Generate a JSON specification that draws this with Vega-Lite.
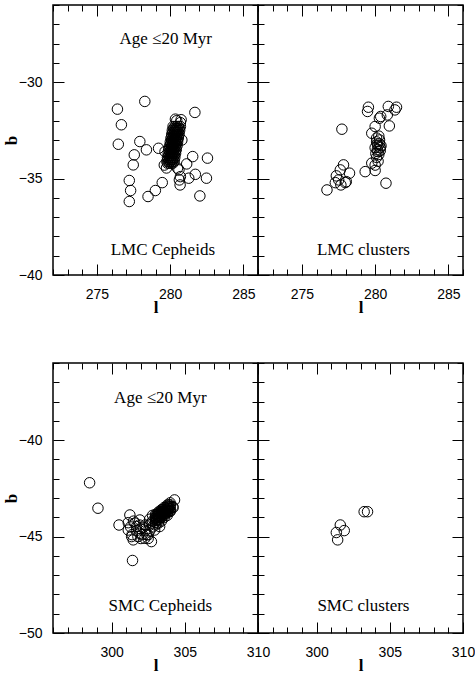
{
  "$schema": "https://vega.github.io/schema/vega-lite/v6.json",
  "padding": {"left": 1, "top": 3, "right": 0, "bottom": 5},
  "bounds": "flush",
  "columns": 2,
  "spacing": {"row": 88, "column": 0},
  "config": {
    "view": {"stroke": "black", "strokeWidth": 1.5},
    "axis": {"domain": false, "grid": false, "tickColor": "black", "tickWidth": 1, "labelFont": "Liberation Sans", "labelFontSize": 14, "labelColor": "black", "labelFlush": false, "labelOverlap": false, "titleFont": "Liberation Serif", "titleFontSize": 17, "titleFontWeight": "bold", "titleColor": "black"},
    "axisX": {"labelPadding": 23, "titlePadding": -2},
    "axisY": {"labelPadding": 22, "titlePadding": -2},
    "text": {"font": "Liberation Serif", "fontSize": 17, "color": "black", "baseline": "middle", "align": "center"}
  },
  "datasets": {
    "lmc_cepheids": [
      {"l": 276.40, "b": -31.40}, {"l": 276.67, "b": -32.21}, {"l": 276.46, "b": -33.22}, {"l": 278.27, "b": -31.00},
      {"l": 277.93, "b": -33.08}, {"l": 278.38, "b": -33.51}, {"l": 277.55, "b": -33.77}, {"l": 277.48, "b": -34.29},
      {"l": 277.21, "b": -35.10}, {"l": 277.30, "b": -35.62}, {"l": 277.21, "b": -36.19}, {"l": 278.49, "b": -35.93},
      {"l": 278.99, "b": -35.62}, {"l": 279.46, "b": -35.21}, {"l": 279.21, "b": -33.43}, {"l": 281.69, "b": -31.57},
      {"l": 281.54, "b": -33.86}, {"l": 281.13, "b": -34.24}, {"l": 281.27, "b": -34.98}, {"l": 281.72, "b": -34.78},
      {"l": 282.55, "b": -33.94}, {"l": 282.48, "b": -34.98}, {"l": 282.03, "b": -35.90}, {"l": 280.63, "b": -35.07},
      {"l": 280.68, "b": -35.33}, {"l": 280.70, "b": -34.90}, {"l": 280.75, "b": -31.95}, {"l": 280.36, "b": -31.92},
      {"l": 280.50, "b": -34.46}, {"l": 280.45, "b": -32.0}, {"l": 280.7, "b": -32.1}, {"l": 280.6, "b": -34.55},
      {"l": 279.75, "b": -34.45}, {"l": 279.6, "b": -34.3}, {"l": 280.8, "b": -33.0}, {"l": 279.65, "b": -33.6},
      {"l": 280.20, "b": -32.3}, {"l": 280.33, "b": -32.3}, {"l": 280.45, "b": -32.3}, {"l": 280.57, "b": -32.3}, {"l": 280.70, "b": -32.3},
      {"l": 280.24, "b": -32.4}, {"l": 280.37, "b": -32.4}, {"l": 280.49, "b": -32.4}, {"l": 280.62, "b": -32.4},
      {"l": 280.15, "b": -32.5}, {"l": 280.28, "b": -32.5}, {"l": 280.40, "b": -32.5}, {"l": 280.52, "b": -32.5}, {"l": 280.65, "b": -32.5},
      {"l": 280.19, "b": -32.6}, {"l": 280.32, "b": -32.6}, {"l": 280.44, "b": -32.6}, {"l": 280.57, "b": -32.6},
      {"l": 280.11, "b": -32.7}, {"l": 280.24, "b": -32.7}, {"l": 280.36, "b": -32.7}, {"l": 280.48, "b": -32.7}, {"l": 280.61, "b": -32.7},
      {"l": 280.14, "b": -32.8}, {"l": 280.27, "b": -32.8}, {"l": 280.39, "b": -32.8}, {"l": 280.52, "b": -32.8},
      {"l": 280.06, "b": -32.9}, {"l": 280.19, "b": -32.9}, {"l": 280.31, "b": -32.9}, {"l": 280.43, "b": -32.9}, {"l": 280.56, "b": -32.9},
      {"l": 280.10, "b": -33.0}, {"l": 280.23, "b": -33.0}, {"l": 280.35, "b": -33.0}, {"l": 280.48, "b": -33.0},
      {"l": 280.01, "b": -33.1}, {"l": 280.14, "b": -33.1}, {"l": 280.26, "b": -33.1}, {"l": 280.38, "b": -33.1}, {"l": 280.51, "b": -33.1},
      {"l": 280.05, "b": -33.2}, {"l": 280.18, "b": -33.2}, {"l": 280.30, "b": -33.2}, {"l": 280.43, "b": -33.2},
      {"l": 279.97, "b": -33.3}, {"l": 280.10, "b": -33.3}, {"l": 280.22, "b": -33.3}, {"l": 280.34, "b": -33.3}, {"l": 280.47, "b": -33.3},
      {"l": 280.00, "b": -33.4}, {"l": 280.13, "b": -33.4}, {"l": 280.25, "b": -33.4}, {"l": 280.38, "b": -33.4},
      {"l": 279.92, "b": -33.5}, {"l": 280.05, "b": -33.5}, {"l": 280.17, "b": -33.5}, {"l": 280.29, "b": -33.5}, {"l": 280.42, "b": -33.5},
      {"l": 279.96, "b": -33.6}, {"l": 280.09, "b": -33.6}, {"l": 280.21, "b": -33.6}, {"l": 280.34, "b": -33.6},
      {"l": 279.87, "b": -33.7}, {"l": 280.00, "b": -33.7}, {"l": 280.12, "b": -33.7}, {"l": 280.24, "b": -33.7}, {"l": 280.37, "b": -33.7},
      {"l": 279.91, "b": -33.8}, {"l": 280.04, "b": -33.8}, {"l": 280.16, "b": -33.8}, {"l": 280.29, "b": -33.8},
      {"l": 279.82, "b": -33.9}, {"l": 279.95, "b": -33.9}, {"l": 280.07, "b": -33.9}, {"l": 280.19, "b": -33.9}, {"l": 280.32, "b": -33.9},
      {"l": 279.86, "b": -34.0}, {"l": 279.99, "b": -34.0}, {"l": 280.11, "b": -34.0}, {"l": 280.24, "b": -34.0},
      {"l": 279.78, "b": -34.1}, {"l": 279.91, "b": -34.1}, {"l": 280.03, "b": -34.1}, {"l": 280.15, "b": -34.1}, {"l": 280.28, "b": -34.1},
      {"l": 279.81, "b": -34.2}, {"l": 279.94, "b": -34.2}, {"l": 280.06, "b": -34.2}, {"l": 280.19, "b": -34.2}
    ],
    "lmc_clusters": [
      {"l": 277.73, "b": -32.44}, {"l": 276.71, "b": -35.59}, {"l": 277.28, "b": -35.21}, {"l": 277.62, "b": -34.55},
      {"l": 277.84, "b": -34.29}, {"l": 277.35, "b": -34.86}, {"l": 277.66, "b": -35.33}, {"l": 278.03, "b": -35.16},
      {"l": 277.96, "b": -35.21}, {"l": 278.25, "b": -34.72}, {"l": 277.51, "b": -35.07}, {"l": 279.32, "b": -34.64},
      {"l": 279.77, "b": -34.20}, {"l": 280.0, "b": -34.58}, {"l": 280.74, "b": -35.24}, {"l": 279.48, "b": -31.52},
      {"l": 279.54, "b": -31.30}, {"l": 280.29, "b": -31.87}, {"l": 280.38, "b": -31.78}, {"l": 280.90, "b": -31.26},
      {"l": 280.97, "b": -32.27}, {"l": 280.83, "b": -31.70}, {"l": 281.35, "b": -31.44}, {"l": 281.46, "b": -31.30},
      {"l": 279.77, "b": -32.65}, {"l": 280.0, "b": -32.30},
      {"l": 280.1, "b": -33.1}, {"l": 280.3, "b": -33.0}, {"l": 280.2, "b": -33.3}, {"l": 280.4, "b": -33.3},
      {"l": 280.0, "b": -33.4}, {"l": 280.15, "b": -33.5}, {"l": 280.35, "b": -33.55}, {"l": 280.25, "b": -33.75},
      {"l": 280.05, "b": -33.7}, {"l": 280.3, "b": -33.2}, {"l": 280.1, "b": -33.9}, {"l": 280.2, "b": -34.1},
      {"l": 280.0, "b": -34.3}, {"l": 280.1, "b": -32.9}, {"l": 280.25, "b": -32.8}, {"l": 280.2, "b": -33.6},
      {"l": 280.35, "b": -33.4}, {"l": 280.15, "b": -33.2}
    ],
    "smc_cepheids": [
      {"l": 298.50, "b": -42.21}, {"l": 299.07, "b": -43.53}, {"l": 300.51, "b": -44.40}, {"l": 301.43, "b": -46.24},
      {"l": 301.25, "b": -43.88}, {"l": 301.14, "b": -44.28}, {"l": 301.14, "b": -44.66}, {"l": 301.37, "b": -45.00},
      {"l": 301.48, "b": -45.17}, {"l": 301.93, "b": -44.83}, {"l": 301.93, "b": -44.14}, {"l": 301.70, "b": -44.48},
      {"l": 302.16, "b": -44.52}, {"l": 302.27, "b": -45.09}, {"l": 302.72, "b": -45.26}, {"l": 302.50, "b": -44.91},
      {"l": 302.94, "b": -44.66}, {"l": 303.28, "b": -44.48}, {"l": 304.30, "b": -43.10}, {"l": 304.18, "b": -43.45},
      {"l": 301.6, "b": -44.3}, {"l": 301.8, "b": -45.0}, {"l": 302.0, "b": -44.6}, {"l": 302.3, "b": -44.7},
      {"l": 301.3, "b": -44.5}, {"l": 302.5, "b": -45.1}, {"l": 302.6, "b": -44.7},
      {"l": 301.5, "b": -44.2}, {"l": 301.7, "b": -44.7}, {"l": 301.9, "b": -44.4}, {"l": 302.1, "b": -44.9},
      {"l": 302.3, "b": -44.4}, {"l": 302.4, "b": -44.9}, {"l": 301.4, "b": -44.9}, {"l": 302.0, "b": -45.1},
      {"l": 302.6, "b": -44.4}, {"l": 302.6, "b": -44.1},
      {"l": 302.8, "b": -44.5}, {"l": 302.8, "b": -44.2}, {"l": 302.8, "b": -43.9},
      {"l": 303.0, "b": -44.4}, {"l": 303.2, "b": -44.3}, {"l": 303.4, "b": -44.2},
      {"l": 303.6, "b": -44.0}, {"l": 303.8, "b": -43.9}, {"l": 304.0, "b": -43.7}, {"l": 304.2, "b": -43.5},
      {"l": 302.7, "b": -44.3}, {"l": 303.1, "b": -44.3},
      {"l": 303.0, "b": -44.25}, {"l": 303.0, "b": -44.15}, {"l": 303.0, "b": -44.05}, {"l": 303.0, "b": -43.95}, {"l": 303.0, "b": -43.85},
      {"l": 303.1, "b": -44.14}, {"l": 303.1, "b": -44.04}, {"l": 303.1, "b": -43.94}, {"l": 303.1, "b": -43.84},
      {"l": 303.2, "b": -44.13}, {"l": 303.2, "b": -44.03}, {"l": 303.2, "b": -43.93}, {"l": 303.2, "b": -43.83}, {"l": 303.2, "b": -43.73},
      {"l": 303.3, "b": -44.02}, {"l": 303.3, "b": -43.92}, {"l": 303.3, "b": -43.82}, {"l": 303.3, "b": -43.72},
      {"l": 303.4, "b": -44.01}, {"l": 303.4, "b": -43.91}, {"l": 303.4, "b": -43.81}, {"l": 303.4, "b": -43.71}, {"l": 303.4, "b": -43.61},
      {"l": 303.5, "b": -43.90}, {"l": 303.5, "b": -43.80}, {"l": 303.5, "b": -43.70}, {"l": 303.5, "b": -43.60},
      {"l": 303.6, "b": -43.89}, {"l": 303.6, "b": -43.79}, {"l": 303.6, "b": -43.69}, {"l": 303.6, "b": -43.59}, {"l": 303.6, "b": -43.49},
      {"l": 303.7, "b": -43.78}, {"l": 303.7, "b": -43.68}, {"l": 303.7, "b": -43.58}, {"l": 303.7, "b": -43.48},
      {"l": 303.8, "b": -43.77}, {"l": 303.8, "b": -43.67}, {"l": 303.8, "b": -43.57}, {"l": 303.8, "b": -43.47}, {"l": 303.8, "b": -43.37},
      {"l": 303.9, "b": -43.66}, {"l": 303.9, "b": -43.56}, {"l": 303.9, "b": -43.46}, {"l": 303.9, "b": -43.36},
      {"l": 304.0, "b": -43.65}, {"l": 304.0, "b": -43.55}, {"l": 304.0, "b": -43.45}, {"l": 304.0, "b": -43.35}, {"l": 304.0, "b": -43.25}
    ],
    "smc_clusters": [
      {"l": 303.25, "b": -43.71}, {"l": 303.48, "b": -43.71}, {"l": 301.35, "b": -44.79},
      {"l": 301.62, "b": -44.40}, {"l": 301.89, "b": -44.69}, {"l": 301.44, "b": -45.17}
    ]
  },
  "concat": [
    {
      "width": 205, "height": 270,
      "layer": [
        {
          "data": {"name": "lmc_cepheids"},
          "mark": {"type": "point", "filled": false, "stroke": "black", "strokeWidth": 1, "size": 110, "opacity": 1},
          "encoding": {
            "x": {"field": "l", "type": "quantitative", "scale": {"domain": [272, 286], "nice": false, "zero": false},
              "axis": {"orient": "bottom", "title": "l", "values": [272,273,274,275,276,277,278,279,280,281,282,283,284,285,286], "labelExpr": "datum.value % 5 === 0 ? datum.label : ''", "labelFontSize": {"condition": {"test": "datum.value % 5 === 0", "value": 14}, "value": 0}, "tickSize": {"condition": {"test": "datum.value % 5 === 0", "value": -11}, "value": -6}}},
            "y": {"field": "b", "type": "quantitative", "scale": {"domain": [-40, -26], "nice": false, "zero": false},
              "axis": {"orient": "left", "title": "b", "values": [-40,-39,-38,-37,-36,-35,-34,-33,-32,-31,-30,-29,-28,-27,-26], "labelExpr": "datum.value % 5 === 0 ? datum.label : ''", "labelFontSize": {"condition": {"test": "datum.value % 5 === 0", "value": 14}, "value": 0}, "tickSize": {"condition": {"test": "datum.value % 5 === 0", "value": -11}, "value": -6}}}
          }
        },
        {
          "data": {"name": "lmc_cepheids"},
          "mark": {"type": "point", "opacity": 0},
          "encoding": {
            "x": {"field": "l", "type": "quantitative", "axis": {"orient": "top", "title": null, "labels": false, "values": [272,273,274,275,276,277,278,279,280,281,282,283,284,285,286], "tickSize": {"condition": {"test": "datum.value % 5 === 0", "value": -11}, "value": -6}}},
            "y": {"field": "b", "type": "quantitative", "axis": {"orient": "right", "title": null, "labels": false, "values": [-40,-39,-38,-37,-36,-35,-34,-33,-32,-31,-30,-29,-28,-27,-26], "tickSize": {"condition": {"test": "datum.value % 5 === 0", "value": -11}, "value": -6}}}
          }
        },
        {
          "data": {"values": [{"label": "Age ≤20 Myr", "px": 279.7, "py": -27.77}, {"label": "LMC Cepheids", "px": 279.5, "py": -38.7}]},
          "mark": {"type": "text"},
          "encoding": {
            "x": {"field": "px", "type": "quantitative", "axis": null},
            "y": {"field": "py", "type": "quantitative", "axis": null},
            "text": {"field": "label"}
          }
        }
      ],
      "resolve": {"axis": {"x": "independent", "y": "independent"}}
    },
    {
      "width": 205, "height": 270,
      "layer": [
        {
          "data": {"name": "lmc_clusters"},
          "mark": {"type": "point", "filled": false, "stroke": "black", "strokeWidth": 1, "size": 110, "opacity": 1},
          "encoding": {
            "x": {"field": "l", "type": "quantitative", "scale": {"domain": [272, 286], "nice": false, "zero": false},
              "axis": {"orient": "bottom", "title": "l", "values": [272,273,274,275,276,277,278,279,280,281,282,283,284,285,286], "labelExpr": "datum.value % 5 === 0 ? datum.label : ''", "labelFontSize": {"condition": {"test": "datum.value % 5 === 0", "value": 14}, "value": 0}, "tickSize": {"condition": {"test": "datum.value % 5 === 0", "value": -11}, "value": -6}}},
            "y": {"field": "b", "type": "quantitative", "scale": {"domain": [-40, -26], "nice": false, "zero": false},
              "axis": {"orient": "left", "title": null, "labels": false, "values": [-40,-39,-38,-37,-36,-35,-34,-33,-32,-31,-30,-29,-28,-27,-26], "tickSize": {"condition": {"test": "datum.value % 5 === 0", "value": -11}, "value": -6}}}
          }
        },
        {
          "data": {"name": "lmc_clusters"},
          "mark": {"type": "point", "opacity": 0},
          "encoding": {
            "x": {"field": "l", "type": "quantitative", "axis": {"orient": "top", "title": null, "labels": false, "values": [272,273,274,275,276,277,278,279,280,281,282,283,284,285,286], "tickSize": {"condition": {"test": "datum.value % 5 === 0", "value": -11}, "value": -6}}},
            "y": {"field": "b", "type": "quantitative", "axis": {"orient": "right", "title": null, "labels": false, "values": [-40,-39,-38,-37,-36,-35,-34,-33,-32,-31,-30,-29,-28,-27,-26], "tickSize": {"condition": {"test": "datum.value % 5 === 0", "value": -11}, "value": -6}}}
          }
        },
        {
          "data": {"values": [{"label": "LMC clusters", "px": 279.2, "py": -38.7}]},
          "mark": {"type": "text"},
          "encoding": {
            "x": {"field": "px", "type": "quantitative", "axis": null},
            "y": {"field": "py", "type": "quantitative", "axis": null},
            "text": {"field": "label"}
          }
        }
      ],
      "resolve": {"axis": {"x": "independent", "y": "independent"}}
    },
    {
      "width": 205, "height": 270,
      "layer": [
        {
          "data": {"name": "smc_cepheids"},
          "mark": {"type": "point", "filled": false, "stroke": "black", "strokeWidth": 1, "size": 110, "opacity": 1},
          "encoding": {
            "x": {"field": "l", "type": "quantitative", "scale": {"domain": [296, 310], "nice": false, "zero": false},
              "axis": {"orient": "bottom", "title": "l", "values": [296,297,298,299,300,301,302,303,304,305,306,307,308,309,310], "labelExpr": "datum.value % 5 === 0 ? datum.label : ''", "labelFontSize": {"condition": {"test": "datum.value % 5 === 0", "value": 14}, "value": 0}, "tickSize": {"condition": {"test": "datum.value % 5 === 0", "value": -11}, "value": -6}}},
            "y": {"field": "b", "type": "quantitative", "scale": {"domain": [-50, -36], "nice": false, "zero": false},
              "axis": {"orient": "left", "title": "b", "values": [-50,-49,-48,-47,-46,-45,-44,-43,-42,-41,-40,-39,-38,-37,-36], "labelExpr": "datum.value % 5 === 0 ? datum.label : ''", "labelFontSize": {"condition": {"test": "datum.value % 5 === 0", "value": 14}, "value": 0}, "tickSize": {"condition": {"test": "datum.value % 5 === 0", "value": -11}, "value": -6}}}
          }
        },
        {
          "data": {"name": "smc_cepheids"},
          "mark": {"type": "point", "opacity": 0},
          "encoding": {
            "x": {"field": "l", "type": "quantitative", "axis": {"orient": "top", "title": null, "labels": false, "values": [296,297,298,299,300,301,302,303,304,305,306,307,308,309,310], "tickSize": {"condition": {"test": "datum.value % 5 === 0", "value": -11}, "value": -6}}},
            "y": {"field": "b", "type": "quantitative", "axis": {"orient": "right", "title": null, "labels": false, "values": [-50,-49,-48,-47,-46,-45,-44,-43,-42,-41,-40,-39,-38,-37,-36], "tickSize": {"condition": {"test": "datum.value % 5 === 0", "value": -11}, "value": -6}}}
          }
        },
        {
          "data": {"values": [{"label": "Age ≤20 Myr", "px": 303.33, "py": -37.84}, {"label": "SMC Cepheids", "px": 303.33, "py": -48.59}]},
          "mark": {"type": "text"},
          "encoding": {
            "x": {"field": "px", "type": "quantitative", "axis": null},
            "y": {"field": "py", "type": "quantitative", "axis": null},
            "text": {"field": "label"}
          }
        }
      ],
      "resolve": {"axis": {"x": "independent", "y": "independent"}}
    },
    {
      "width": 205, "height": 270,
      "layer": [
        {
          "data": {"name": "smc_clusters"},
          "mark": {"type": "point", "filled": false, "stroke": "black", "strokeWidth": 1, "size": 110, "opacity": 1},
          "encoding": {
            "x": {"field": "l", "type": "quantitative", "scale": {"domain": [296, 310], "nice": false, "zero": false},
              "axis": {"orient": "bottom", "title": "l", "values": [296,297,298,299,300,301,302,303,304,305,306,307,308,309,310], "labelExpr": "datum.value % 5 === 0 ? datum.label : ''", "labelFontSize": {"condition": {"test": "datum.value % 5 === 0", "value": 14}, "value": 0}, "tickSize": {"condition": {"test": "datum.value % 5 === 0", "value": -11}, "value": -6}}},
            "y": {"field": "b", "type": "quantitative", "scale": {"domain": [-50, -36], "nice": false, "zero": false},
              "axis": {"orient": "left", "title": null, "labels": false, "values": [-50,-49,-48,-47,-46,-45,-44,-43,-42,-41,-40,-39,-38,-37,-36], "tickSize": {"condition": {"test": "datum.value % 5 === 0", "value": -11}, "value": -6}}}
          }
        },
        {
          "data": {"name": "smc_clusters"},
          "mark": {"type": "point", "opacity": 0},
          "encoding": {
            "x": {"field": "l", "type": "quantitative", "axis": {"orient": "top", "title": null, "labels": false, "values": [296,297,298,299,300,301,302,303,304,305,306,307,308,309,310], "tickSize": {"condition": {"test": "datum.value % 5 === 0", "value": -11}, "value": -6}}},
            "y": {"field": "b", "type": "quantitative", "axis": {"orient": "right", "title": null, "labels": false, "values": [-50,-49,-48,-47,-46,-45,-44,-43,-42,-41,-40,-39,-38,-37,-36], "tickSize": {"condition": {"test": "datum.value % 5 === 0", "value": -11}, "value": -6}}}
          }
        },
        {
          "data": {"values": [{"label": "SMC clusters", "px": 303.2, "py": -48.59}]},
          "mark": {"type": "text"},
          "encoding": {
            "x": {"field": "px", "type": "quantitative", "axis": null},
            "y": {"field": "py", "type": "quantitative", "axis": null},
            "text": {"field": "label"}
          }
        }
      ],
      "resolve": {"axis": {"x": "independent", "y": "independent"}}
    }
  ]
}
